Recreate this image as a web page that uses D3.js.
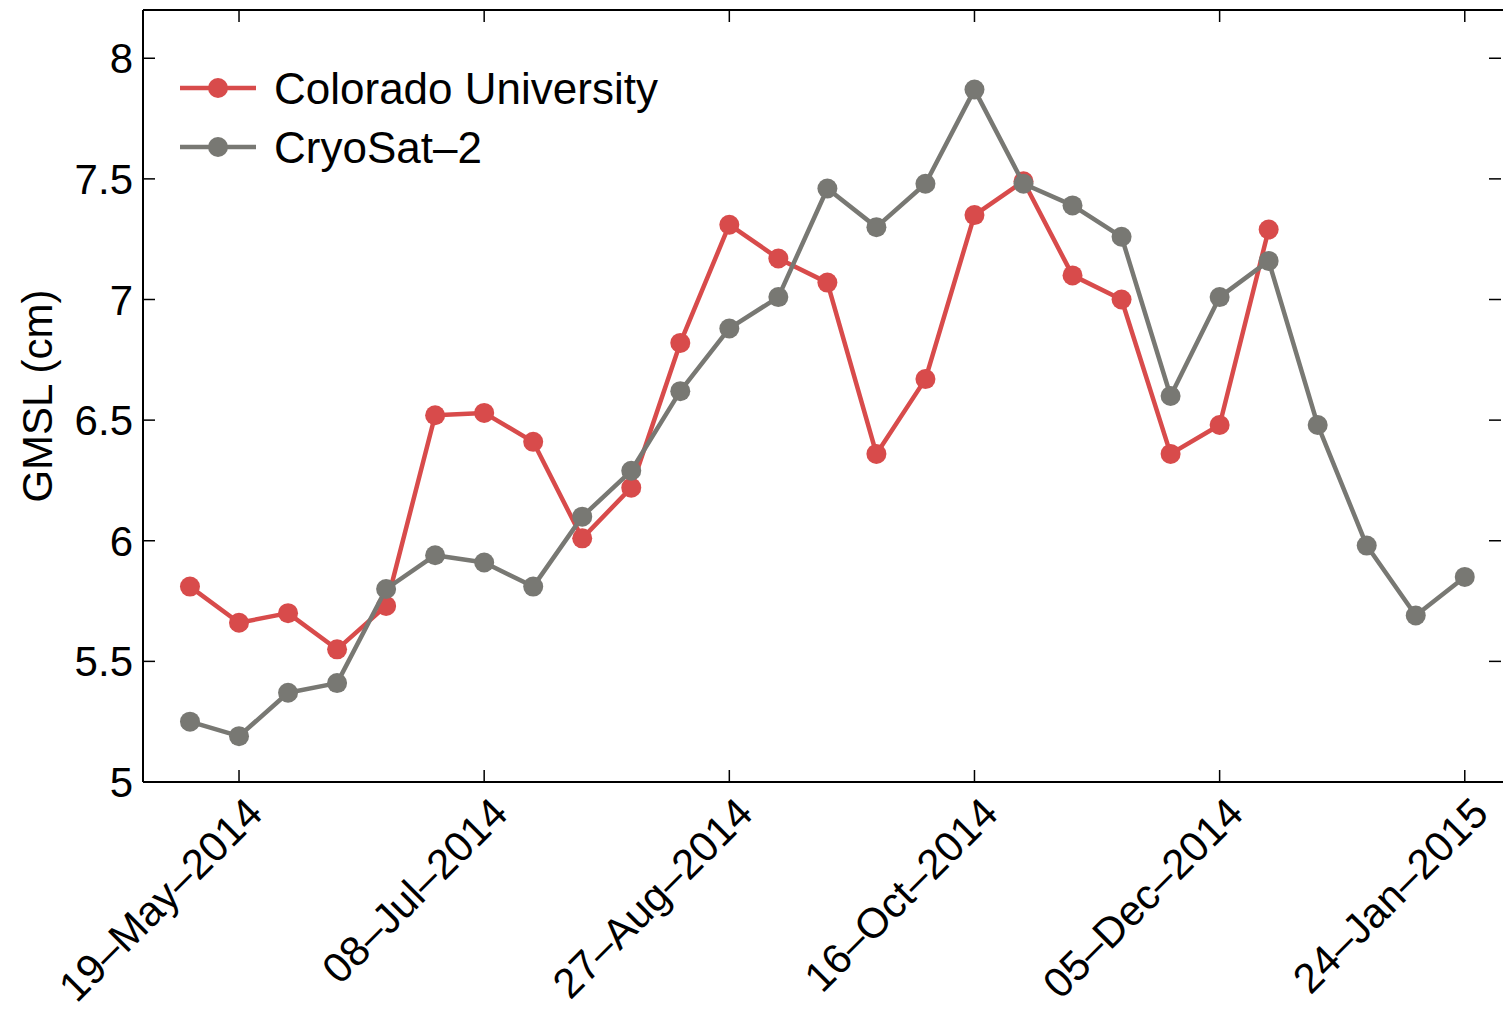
<!DOCTYPE html>
<html>
<head>
<meta charset="utf-8">
<script src="https://cdn.jsdelivr.net/npm/d3@7/dist/d3.min.js"></script>
<style>
  html, body { margin: 0; padding: 0; background: #fff; }
  svg { display: block; font-family: "Liberation Sans", Arial, Helvetica, sans-serif; }
</style>
</head>
<body>
<div id="chart"></div>
<script>
// Sample dates (10-day cycles)
const dates = [
  "2014-05-09", "2014-05-19", "2014-05-29", "2014-06-08", "2014-06-18", "2014-06-28",
  "2014-07-08", "2014-07-18", "2014-07-28", "2014-08-07", "2014-08-17", "2014-08-27",
  "2014-09-06", "2014-09-16", "2014-09-26", "2014-10-06", "2014-10-16", "2014-10-26",
  "2014-11-05", "2014-11-15", "2014-11-25", "2014-12-05", "2014-12-15", "2014-12-25",
  "2015-01-04", "2015-01-14", "2015-01-24"
];

// GMSL (cm)
const colorado = [
  5.81, 5.66, 5.70, 5.55, 5.73, 6.52, 6.53, 6.41, 6.01, 6.22, 6.82, 7.31,
  7.17, 7.07, 6.36, 6.67, 7.35, 7.49, 7.10, 7.00, 6.36, 6.48, 7.29
];
const cryosat = [
  5.25, 5.19, 5.37, 5.41, 5.80, 5.94, 5.91, 5.81, 6.10, 6.29, 6.62, 6.88,
  7.01, 7.46, 7.30, 7.48, 7.87, 7.48, 7.39, 7.26, 6.60, 7.01, 7.16, 6.48,
  5.98, 5.69, 5.85
];

const xTicks = ["2014-05-19", "2014-07-08", "2014-08-27", "2014-10-16", "2014-12-05", "2015-01-24"];
const yTicks = [5, 5.5, 6, 6.5, 7, 7.5, 8];

const series = [
  { name: "Colorado University", values: colorado, color: "#d84b4b" },
  { name: "CryoSat\u20132", values: cryosat, color: "#787873" }
];

const W = 1503, H = 1013;
const margin = { left: 143, right: -1, top: 10, bottom: 231 };
const parse = d3.utcParse("%Y-%m-%d");

const svg = d3.select("#chart").append("svg")
  .attr("width", W)
  .attr("height", H);

const x = d3.scaleUtc()
  .domain([new Date(Date.UTC(2014, 3, 29, 10)), new Date(Date.UTC(2015, 1, 1, 0))])
  .range([margin.left, W - margin.right]);

const y = d3.scaleLinear()
  .domain([5, 8.2])
  .range([H - margin.bottom, margin.top]);

const fmt = d => {
  const f = d3.utcFormat("%d-%b-%Y")(d);
  return f.replace(/-/g, "\u2013");
};

const tickLen = 12;
const axisG = svg.append("g");

// x ticks (inside, bottom and top)
xTicks.map(parse).forEach(d => {
  const px = x(d);
  axisG.append("line")
    .attr("x1", px).attr("x2", px)
    .attr("y1", y(5)).attr("y2", y(5) - tickLen)
    .attr("stroke", "#000").attr("stroke-width", 1.5);
  axisG.append("line")
    .attr("x1", px).attr("x2", px)
    .attr("y1", y(8.2)).attr("y2", y(8.2) + tickLen)
    .attr("stroke", "#000").attr("stroke-width", 1.5);
  axisG.append("text")
    .attr("transform", `translate(${px + 5},${y(5) + 13}) rotate(-45)`)
    .attr("text-anchor", "end")
    .attr("dy", "0.7em")
    .attr("font-size", 42)
    .text(fmt(d));
});

// y ticks (inside, left and right)
yTicks.forEach(v => {
  axisG.append("line")
    .attr("x1", margin.left).attr("x2", margin.left + tickLen)
    .attr("y1", y(v)).attr("y2", y(v))
    .attr("stroke", "#000").attr("stroke-width", 1.5);
  axisG.append("line")
    .attr("x1", W - 2).attr("x2", W - 2 - tickLen)
    .attr("y1", y(v)).attr("y2", y(v))
    .attr("stroke", "#000").attr("stroke-width", 1.5);
  axisG.append("text")
    .attr("x", margin.left - 10)
    .attr("y", y(v))
    .attr("dy", "0.36em")
    .attr("text-anchor", "end")
    .attr("font-size", 42)
    .text(v);
});

// box lines
axisG.append("line")
  .attr("x1", margin.left).attr("x2", margin.left)
  .attr("y1", y(8.2)).attr("y2", y(5))
  .attr("stroke", "#000").attr("stroke-width", 2);
axisG.append("line")
  .attr("x1", margin.left).attr("x2", W + 2)
  .attr("y1", y(5)).attr("y2", y(5))
  .attr("stroke", "#000").attr("stroke-width", 2);
axisG.append("line")
  .attr("x1", margin.left).attr("x2", W + 2)
  .attr("y1", y(8.2)).attr("y2", y(8.2))
  .attr("stroke", "#000").attr("stroke-width", 2);

// y label
svg.append("text")
  .attr("transform", `translate(52,${y(6.6)}) rotate(-90)`)
  .attr("text-anchor", "middle")
  .attr("font-size", 42)
  .text("GMSL (cm)");

// lines + markers
const line = d3.line()
  .x((d, i) => x(parse(dates[i])))
  .y(d => y(d));

series.forEach(s => {
  const g = svg.append("g");
  g.append("path")
    .datum(s.values)
    .attr("d", line)
    .attr("fill", "none")
    .attr("stroke", s.color)
    .attr("stroke-width", 4.5)
    .attr("stroke-linejoin", "round");
  g.selectAll("circle")
    .data(s.values)
    .enter().append("circle")
    .attr("cx", (d, i) => x(parse(dates[i])))
    .attr("cy", d => y(d))
    .attr("r", 10)
    .attr("fill", s.color);
});

// legend
const legend = svg.append("g");
series.forEach((s, i) => {
  const ly = 88 + i * 59;
  legend.append("line")
    .attr("x1", 180).attr("x2", 256)
    .attr("y1", ly).attr("y2", ly)
    .attr("stroke", s.color).attr("stroke-width", 4.5);
  legend.append("circle")
    .attr("cx", 218).attr("cy", ly).attr("r", 10)
    .attr("fill", s.color);
  legend.append("text")
    .attr("x", 274).attr("y", ly)
    .attr("dy", "0.36em")
    .attr("font-size", 44)
    .text(s.name);
});
</script>
</body>
</html>
